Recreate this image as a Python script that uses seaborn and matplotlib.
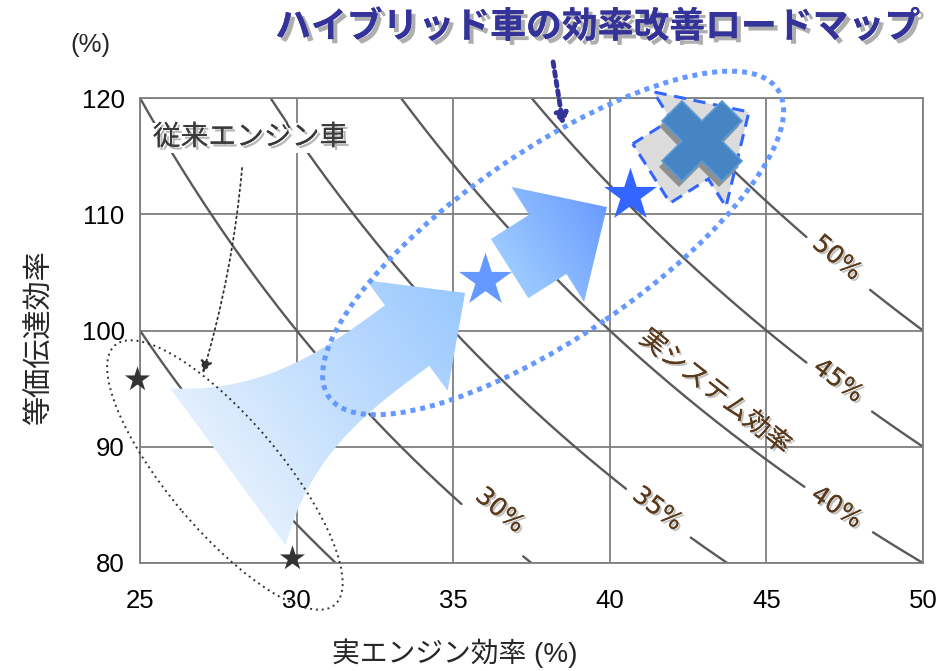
import numpy as np
import pandas as pd
import matplotlib
matplotlib.use("Agg")
import matplotlib.pyplot as plt
import seaborn as sns
from matplotlib.patches import Polygon, Ellipse
from matplotlib.transforms import Affine2D
import matplotlib.patheffects as pe

# ---------------- data ----------------
x_ticks = [25, 30, 35, 40, 45, 50]
y_ticks = [80, 90, 100, 110, 120]

# iso system-efficiency curves: engine eff x transmission eff = level
system_levels = [25, 30, 35, 40, 45, 50]
label_levels = [30, 35, 40, 45, 50]
label_x = [36.49, 41.52, 47.24, 47.29, 47.25]
label_y = [84.52, 84.65, 84.77, 95.66, 106.24]
gap_lo = [35.28, 40.55, 46.23, 46.30, 46.30]
gap_hi = [37.23, 42.56, 48.40, 48.37, 48.31]

conv_engine = [24.9, 29.85]
conv_trans = [95.8, 80.4]
hybrid_engine = [36.02, 40.66]
hybrid_trans = [104.34, 111.66]
hybrid_colors = ["#6699ff", "#3366ff"]
target_engine = 42.94
target_trans = 116.30

title = "ハイブリッド車の効率改善ロードマップ"
xlabel = "実エンジン効率 (%)"
ylabel = "等価伝達効率"
conv_label = "従来エンジン車"
sys_label = "実システム効率"

# ---------------- figure ----------------
sns.set_theme(style="white")
plt.rcParams["font.family"] = ["Liberation Sans", "Noto Sans CJK JP"]

W, H = 941, 671
fig = plt.figure(figsize=(W / 100, H / 100), dpi=100)
ax_l, ax_b, ax_w, ax_h = 140, 108, 783, 465
ax = fig.add_axes([ax_l / W, ax_b / H, ax_w / W, ax_h / H])
X0, X1, Y0, Y1 = 25, 50, 80, 120
SX = ax_w / (X1 - X0)   # pixels per data unit
SY = ax_h / (Y1 - Y0)

# pixel-space frame anchored at the axes origin
uv_trans = Affine2D().scale(1 / SX, 1 / SY).translate(X0, Y0) + ax.transData


def to_uv(x, y):
    return np.array([(x - X0) * SX, (y - Y0) * SY])


def from_uv(pts):
    pts = np.asarray(pts)
    return np.column_stack([X0 + pts[:, 0] / SX, Y0 + pts[:, 1] / SY])


def curve_angle(level, x):
    slope = -(level * 100.0) / x ** 2
    return np.degrees(np.arctan(slope * SY / SX))


# ---------------- iso-efficiency curves ----------------
rows = []
for lev in system_levels:
    xs = np.linspace(X0, X1, 800)
    ys = lev * 100.0 / xs
    keep = (ys >= Y0) & (ys <= Y1)
    xs, ys = xs[keep], ys[keep]
    seg = np.zeros(len(xs), dtype=int)
    if lev in label_levels:
        i = label_levels.index(lev)
        in_gap = (xs > gap_lo[i]) & (xs < gap_hi[i])
        seg[xs >= gap_hi[i]] = 1
        xs, ys, seg = xs[~in_gap], ys[~in_gap], seg[~in_gap]
    for xv, yv, s in zip(xs, ys, seg):
        rows.append({"x": xv, "y": yv, "unit": f"{lev}-{s}"})
curves = pd.DataFrame(rows)
sns.lineplot(data=curves, x="x", y="y", units="unit", estimator=None,
             sort=False, color="#5a5a5a", lw=1.7, legend=False, ax=ax, zorder=2)

ax.set_xlim(X0, X1)
ax.set_ylim(Y0, Y1)
ax.set_xticks(x_ticks)
ax.set_yticks(y_ticks)
ax.grid(True, color="#7f7f7f", lw=1.3, zorder=0)
ax.set_axisbelow(True)
for s in ax.spines.values():
    s.set_color("#7f7f7f")
    s.set_linewidth(1.3)
ax.tick_params(axis="both", length=0, labelsize=18.5, colors="black")
ax.tick_params(axis="x", pad=19)
ax.tick_params(axis="y", pad=11)
ax.set_xlabel("")
ax.set_ylabel("")

# curve value labels
shadow = [pe.withSimplePatchShadow(offset=(1.5, -1.5), shadow_rgbFace="#999999", alpha=0.6), pe.Normal()]
for lev, lx, ly in zip(label_levels, label_x, label_y):
    ax.text(lx, ly, f"{lev}%", rotation=curve_angle(lev, lx), rotation_mode="anchor",
            ha="center", va="center", fontsize=18, family="DejaVu Sans",
            color="#5a3a1a", zorder=3, path_effects=shadow)

ax.text(43.36, 94.71, sys_label, rotation=curve_angle(40, 43.36), rotation_mode="anchor",
        ha="center", va="center", fontsize=19, color="#5a3a1a", zorder=3,
        family=["Noto Sans CJK JP"], path_effects=shadow)


# ---------------- block arrows ----------------
def arrow_poly(tail, tip, tail_hw, neck_hw, head_hw, head_len, power=1.0, n=40):
    a, b = to_uv(*tail), to_uv(*tip)
    d = b - a
    L = np.hypot(*d)
    d = d / L
    nrm = np.array([-d[1], d[0]])
    body = L - head_len
    ts = np.linspace(0, 1, n)
    hw = neck_hw + (tail_hw - neck_hw) * (1 - ts) ** power
    centers = a + np.outer(ts * body, d)
    left = centers + hw[:, None] * nrm
    right = centers - hw[:, None] * nrm
    base = a + body * d
    pts = np.vstack([left, base + head_hw * nrm, b, base - head_hw * nrm, right[::-1]])
    return from_uv(pts), a, b


def gradient_arrow(tail, tip, tail_hw, neck_hw, head_hw, head_len, power, c0, c1, z):
    poly, a, b = arrow_poly(tail, tip, tail_hw, neck_hw, head_hw, head_len, power)
    patch = Polygon(poly, closed=True, facecolor="none", edgecolor="none",
                    transform=ax.transData)
    ax.add_patch(patch)
    gx = np.linspace(X0, X1, 600)
    gy = np.linspace(Y0, Y1, 500)
    GX, GY = np.meshgrid(gx, gy)
    U, V = (GX - X0) * SX, (GY - Y0) * SY
    d = b - a
    t = ((U - a[0]) * d[0] + (V - a[1]) * d[1]) / (d @ d)
    t = np.clip(t, 0, 1)[..., None]
    c0 = np.array(matplotlib.colors.to_rgb(c0))
    c1 = np.array(matplotlib.colors.to_rgb(c1))
    img = c0 + t * (c1 - c0)
    im = ax.imshow(img, extent=(X0, X1, Y0, Y1), origin="lower", aspect="auto",
                   interpolation="bilinear", zorder=z)
    im.set_clip_path(patch)


gradient_arrow((27.81, 88.26), (35.38, 103.23), 97.5, 37.5, 68.5, 72, 3.0,
               "#e2effd", "#99c8ff", 3)
gradient_arrow((36.80, 105.33), (39.91, 110.62), 35, 35, 68, 70, 1.0,
               "#9ccaff", "#6a9bff", 3.6)

# outlined target arrow behind the goal marker
gpoly, _, _ = arrow_poly((41.33, 113.51), (44.44, 118.80), 35, 35, 68, 70, 1.0)
ax.add_patch(Polygon(gpoly, closed=True, facecolor="#dcdcdc", edgecolor="#3366ff",
                     lw=2.2, linestyle=(0, (4, 2.5)), zorder=3.2, clip_on=False))

# ---------------- markers ----------------
sns.scatterplot(x=conv_engine, y=conv_trans, marker="*", s=19 ** 2, color="#333333",
                linewidth=0, ax=ax, zorder=5, clip_on=False, legend=False)
sns.scatterplot(x=hybrid_engine[:1], y=hybrid_trans[:1], marker="*", s=40 ** 2,
                color=hybrid_colors[0], linewidth=0, ax=ax, zorder=3.5, legend=False)
sns.scatterplot(x=hybrid_engine[1:], y=hybrid_trans[1:], marker="*", s=40 ** 2,
                color=hybrid_colors[1], linewidth=0, ax=ax, zorder=5, legend=False)
ax.plot([target_engine], [target_trans], marker="X", ms=58, color="#4684c4",
        mec="#5b9bd5", mew=1.2, zorder=5, clip_on=False,
        path_effects=[pe.withSimplePatchShadow(offset=(-2, -4), shadow_rgbFace="black",
                                               alpha=0.35)])

# ---------------- grouping ellipses ----------------
c_big = to_uv(38.19, 107.53)
ax.add_patch(Ellipse(c_big, 544, 186, angle=34.4, transform=uv_trans, fill=False,
                     edgecolor="#6699ff", lw=3.6, linestyle=(0, (1, 1)),
                     zorder=6, clip_on=False))
c_small = to_uv(27.71, 87.57)
ax.add_patch(Ellipse(c_small, 340, 112, angle=-49.8, transform=uv_trans, fill=False,
                     edgecolor="#333333", lw=1.4, linestyle=(0, (1, 2)),
                     zorder=6, clip_on=False))

# ---------------- annotations ----------------
ax.text(28.51, 116.56, conv_label, ha="center", va="center", fontsize=20,
        color="#3a3a3a", zorder=7,
        bbox=dict(facecolor="white", edgecolor="none", pad=1.5),
        path_effects=[pe.withSimplePatchShadow(offset=(2, -2), shadow_rgbFace="#888888",
                                               alpha=0.6), pe.Normal()])
ax.annotate("", xy=(27.01, 96.34), xytext=(28.26, 113.98),
            arrowprops=dict(arrowstyle="-|>,head_length=0.6,head_width=0.3",
                            color="#333333", lw=1.3, linestyle=(0, (1, 2)),
                            connectionstyle="arc3,rad=-0.05", shrinkA=0, shrinkB=0),
            zorder=6, annotation_clip=False)

ax.annotate("", xy=(38.51, 117.68), xytext=(38.19, 123.1),
            arrowprops=dict(arrowstyle="-|>,head_length=0.5,head_width=0.3",
                            color="#333399", lw=3.5, linestyle=(0, (1, 1)),
                            shrinkA=0, shrinkB=0),
            zorder=7, annotation_clip=False)

fig.text(598 / W, 1 - 27 / H, title, ha="center", va="center", fontsize=25.8,
         fontweight="bold", color="#333399", family=["Noto Sans CJK JP"],
         path_effects=[pe.withSimplePatchShadow(offset=(3, -3), shadow_rgbFace="#9a9a9a",
                                                alpha=0.8), pe.Normal()])

fig.text(90 / W, 1 - 45 / H, "(%)", ha="center", va="center", fontsize=18.5)
fig.text(455 / W, 1 - 653 / H, xlabel, ha="center", va="center", fontsize=20)
fig.text(40 / W, 1 - 338 / H, ylabel, ha="center", va="center", fontsize=21,
         rotation=90)

fig.savefig("out.png", dpi=100)
